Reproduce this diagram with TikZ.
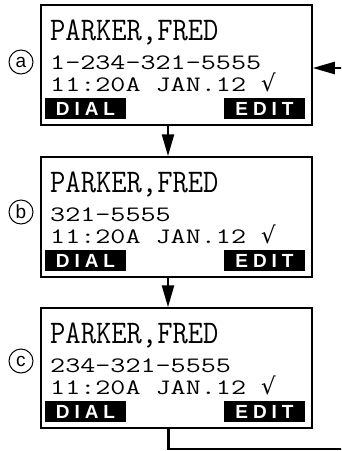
\documentclass[tikz,border=0pt]{standalone}
\usepackage{fontspec}
\usetikzlibrary{arrows.meta}
\newfontfamily\keyfont{Liberation Sans}[LetterSpace=26]
\newfontfamily\tagfont{Liberation Sans}
\newfontfamily\symfont{DejaVu Sans}
\newcommand{\tick}{{\symfont\fontsize{23}{23}\selectfont √}}
\tikzset{
  screen/.style={draw, line width=1.5pt, minimum width=271pt, minimum height=120pt, inner sep=0pt},
  keycap/.style={fill=black, text=white, minimum width=81pt, minimum height=21pt, inner sep=0pt,
    font=\keyfont\bfseries\fontsize{19}{19}\selectfont},
  lcdbig/.style={anchor=base west, inner sep=0pt, font=\ttfamily\fontsize{33}{33}\selectfont},
  lcd/.style={anchor=base west, inner sep=0pt, font=\ttfamily\fontsize{22}{22}\selectfont},
  tagcircle/.style={draw, circle, line width=1pt, minimum size=24pt, inner sep=0pt,
    font=\tagfont\fontsize{19}{19}\selectfont},
  flow/.style={line width=2.5pt, -{Triangle[length=22pt,width=12pt]}}
}
\begin{document}
\begin{tikzpicture}[x=1pt, y=-1pt]
  \useasboundingbox (0,0) rectangle (341,451);
  \clip (0,0) rectangle (341,451);
  % screen a
  \begin{scope}[shift={(41,5)}]
    \node[screen] (a) at (135.5,60) {};
    \node[tagcircle] (a-tag) at (-20,57) {a};
    \node[lcdbig] (a-name) at (9,35) {\scalebox{0.9}[1]{PARKER,FRED}};
    \node[lcd] (a-num) at (9,64) {\scalebox{1.33}[1]{1-234-321-5555}};
    \node[lcd] (a-time) at (9,86) {\scalebox{1.33}[1]{11:20A JAN.12 }\tick};
    \node[keycap] (a-dial) at (44.5,103.5) {DIAL};
    \node[keycap] (a-edit) at (223.5,103.5) {EDIT};
  \end{scope}
  % screen b
  \begin{scope}[shift={(41,157)}]
    \node[screen] (b) at (135.5,60) {};
    \node[tagcircle] (b-tag) at (-20,55) {b};
    \node[lcdbig] (b-name) at (9,35) {\scalebox{0.9}[1]{PARKER,FRED}};
    \node[lcd] (b-num) at (9,64) {\scalebox{1.33}[1]{321-5555}};
    \node[lcd] (b-time) at (9,86) {\scalebox{1.33}[1]{11:20A JAN.12 }\tick};
    \node[keycap] (b-dial) at (44.5,103.5) {DIAL};
    \node[keycap] (b-edit) at (223.5,103.5) {EDIT};
  \end{scope}
  % screen c
  \begin{scope}[shift={(41,308)}]
    \node[screen] (c) at (135.5,60) {};
    \node[tagcircle] (c-tag) at (-20,53) {c};
    \node[lcdbig] (c-name) at (9,35) {\scalebox{0.9}[1]{PARKER,FRED}};
    \node[lcd] (c-num) at (9,64) {\scalebox{1.33}[1]{234-321-5555}};
    \node[lcd] (c-time) at (9,86) {\scalebox{1.33}[1]{11:20A JAN.12 }\tick};
    \node[keycap] (c-dial) at (44.5,103.5) {DIAL};
    \node[keycap] (c-edit) at (223.5,103.5) {EDIT};
  \end{scope}
  % flow
  \draw[flow] ([xshift=-8.5pt]a.south) -- ([xshift=-8.5pt]b.north);
  \draw[flow] ([xshift=-8.5pt]b.south) -- ([xshift=-8.5pt]c.north);
  \coordinate (back) at (350,449);
  \draw[flow] ([xshift=-8pt]c.south) |- (back) |- ([yshift=-3pt]a.east);
\end{tikzpicture}
\end{document}
